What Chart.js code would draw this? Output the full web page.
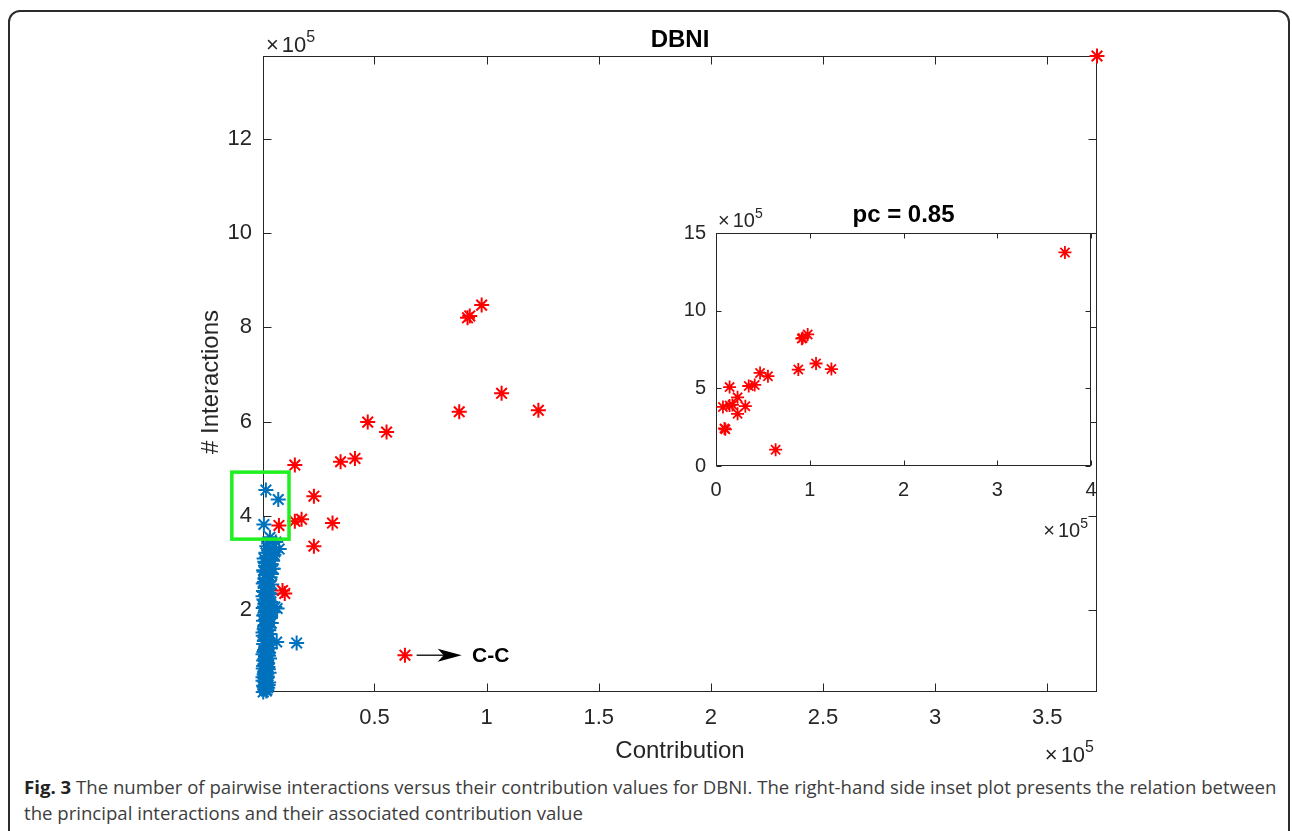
<!DOCTYPE html>
<html>
<head>
<meta charset="utf-8">
<script src="https://cdn.jsdelivr.net/npm/chart.js@4.4.0/dist/chart.umd.min.js"></script>
<style>
  html, body { margin: 0; padding: 0; background: #fff; }
  body { width: 1292px; height: 831px; position: relative; overflow: hidden; }
  #frame { position: absolute; left: 8px; top: 10px; width: 1282px; height: 900px;
           border: 2px solid #2b2b2b; border-radius: 12px; box-sizing: border-box; }
  #main { position: absolute; left: 0; top: 0; }
  #inset { position: absolute; left: 640px; top: 190px; }
  #caption { position: absolute; left: 24px; top: 774px; white-space: nowrap;
             font-family: "Open Sans", sans-serif; font-size: 18.6px; line-height: 26px; color: #3d3d3d; }
  #caption b { color: #222; }
</style>
</head>
<body>
<div id="frame"></div>
<canvas id="main" width="1292" height="770"></canvas>
<canvas id="inset" width="470" height="360"></canvas>
<div id="caption"><b>Fig. 3</b> The number of pairwise interactions versus their contribution values for DBNI. The right-hand side inset plot presents the relation between<br>the principal interactions and their associated contribution value</div>
<script>
// values in units of 1e5
const redContribution = [0.145, 0.349, 0.413, 0.230, 0.074, 0.145, 0.175, 0.313, 0.230, 0.090, 0.100,
  0.978, 0.915, 0.925, 1.067, 0.878, 1.231, 0.470, 0.554, 0.636, 3.722]
const redInteractions = [5.08, 5.15, 5.22, 4.42, 3.80, 3.89, 3.93, 3.85, 3.36, 2.42, 2.36,
  8.47, 8.20, 8.24, 6.60, 6.21, 6.24, 5.99, 5.78, 1.05, 13.75]

const blueContribution = [0.004, 0.018, 0.010, 0.024, 0.006, 0.016, 0.028, 0.003, 0.012, 0.022,
  0.008, 0.030, 0.015, 0.004, 0.025, 0.011, 0.019, 0.006, 0.032, 0.014,
  0.003, 0.024, 0.010, 0.036, 0.017, 0.006, 0.028, 0.012, 0.021, 0.004,
  0.034, 0.015, 0.008, 0.026, 0.013, 0.040, 0.005, 0.020, 0.030, 0.010,
  0.045, 0.016, 0.004, 0.027, 0.012, 0.038, 0.007, 0.022, 0.017, 0.031,
  0.005, 0.024, 0.013, 0.042, 0.009, 0.020, 0.035, 0.014, 0.026, 0.006,
  0.044, 0.018, 0.030, 0.011, 0.038, 0.022, 0.052, 0.016, 0.034, 0.046,
  0.028, 0.060, 0.075,
  0.016, 0.071, 0.007, 0.034, 0.056, 0.049, 0.066, 0.064, 0.153, 0.056,
  0.020, 0.008, 0.026, 0.014, 0.003, 0.020, 0.010, 0.027, 0.006, 0.022,
  0.013, 0.028, 0.007, 0.020, 0.030, 0.009, 0.025, 0.016, 0.003, 0.029,
  0.010, 0.023, 0.014, 0.036, 0.006, 0.025, 0.033, 0.009, 0.019, 0.030,
  0.003, 0.036, 0.010, 0.028, 0.018, 0.004, 0.030, 0.012, 0.040, 0.008,
  0.024, 0.036, 0.015, 0.046, 0.028, 0.008, 0.042, 0.020]
const blueInteractions = [0.27, 0.29, 0.33, 0.36, 0.40, 0.44, 0.47, 0.51, 0.55, 0.60,
  0.64, 0.68, 0.72, 0.77, 0.80, 0.85, 0.90, 0.94, 0.98, 1.02,
  1.07, 1.10, 1.15, 1.20, 1.24, 1.29, 1.33, 1.38, 1.42, 1.46,
  1.50, 1.55, 1.60, 1.64, 1.69, 1.73, 1.78, 1.82, 1.87, 1.91,
  1.96, 2.00, 2.05, 2.09, 2.14, 2.18, 2.23, 2.27, 2.32, 2.37,
  2.41, 2.46, 2.50, 2.55, 2.60, 2.65, 2.70, 2.75, 2.80, 2.85,
  2.88, 2.93, 2.98, 3.03, 3.08, 3.12, 3.18, 3.22, 3.28, 3.33,
  3.42, 3.45, 3.30,
  4.55, 4.35, 3.82, 3.55, 3.24, 2.88, 2.04, 1.33, 1.31, 2.07,
  0.31, 0.38, 0.42, 0.49, 0.58, 0.66, 0.70, 0.75, 0.82, 0.87,
  0.96, 1.04, 1.12, 1.18, 1.27, 1.35, 1.40, 1.48, 1.53, 1.58,
  1.66, 1.71, 1.80, 1.84, 1.89, 1.94, 2.02, 2.08, 2.16, 2.21,
  2.30, 2.34, 2.39, 2.44, 2.53, 2.57, 2.62, 2.68, 2.77, 2.82,
  2.90, 2.95, 3.00, 3.05, 3.15, 3.10, 3.21, 3.36]

const mainXTicks = [0.5, 1, 1.5, 2, 2.5, 3, 3.5]
const mainYTicks = [2, 4, 6, 8, 10, 12]
const insetXTicks = [0, 1, 2, 3, 4]
const insetYTicks = [0, 5, 10, 15]

// axis limits (tight around the data)
const mainXRange = [0.003, 3.722]
const mainYRange = [0.27, 13.75]

// annotations, data units
const highlightBox = { x0: -0.136, x1: 0.119, y0: 3.51, y1: 4.93 }
const ccArrow = { x0: 0.688, x1: 0.889, y: 1.05, textX: 0.935 }

const FONT = '"Liberation Sans", Arial, sans-serif'
const INK = '#262626'
const toPoints = (xs, ys) => xs.map((x, i) => ({ x, y: ys[i] }))

function drawBox(chart, tickLen) {
  const { ctx, chartArea: a, scales: { x, y } } = chart
  const L = Math.round(a.left) + 0.5, R = Math.round(a.right) - 0.5
  const T = Math.round(a.top) + 0.5, B = Math.round(a.bottom) - 0.5
  ctx.save()
  ctx.strokeStyle = INK
  ctx.lineWidth = 1
  ctx.strokeRect(L, T, R - L, B - T)
  ctx.beginPath()
  x.ticks.forEach(t => {
    const px = Math.round(x.getPixelForValue(t.value)) + 0.5
    ctx.moveTo(px, B); ctx.lineTo(px, B - tickLen)
    ctx.moveTo(px, T); ctx.lineTo(px, T + tickLen)
  })
  y.ticks.forEach(t => {
    const py = Math.round(y.getPixelForValue(t.value)) + 0.5
    ctx.moveTo(L, py); ctx.lineTo(L + tickLen, py)
    ctx.moveTo(R, py); ctx.lineTo(R - tickLen, py)
  })
  ctx.stroke()
  ctx.restore()
}

// "x10^5" multiplier; align 'left' or 'right' on x
function drawExponent(ctx, x, baseline, size, align) {
  ctx.save()
  ctx.fillStyle = INK
  ctx.textAlign = 'left'
  ctx.textBaseline = 'alphabetic'
  const small = Math.round(size * 0.72)
  ctx.font = `${size}px ${FONT}`
  const wx = ctx.measureText('\u00d7').width
  const w10 = ctx.measureText('10').width
  ctx.font = `${small}px ${FONT}`
  const w5 = ctx.measureText('5').width
  const total = wx + 3 + w10 + w5
  const x0 = align === 'right' ? x - total : x
  ctx.font = `${size}px ${FONT}`
  ctx.fillText('\u00d7', x0, baseline)
  ctx.fillText('10', x0 + wx + 3, baseline)
  ctx.font = `${small}px ${FONT}`
  ctx.fillText('5', x0 + wx + 3 + w10, baseline - size * 0.45)
  ctx.restore()
}

const mainDecor = {
  id: 'mainDecor',
  beforeDatasetsDraw(chart) { drawBox(chart, 8) },
  afterDraw(chart) {
    const { ctx, chartArea: a, scales: { x, y } } = chart
    ctx.save()
    // title
    ctx.fillStyle = '#000'
    ctx.font = `bold 24px ${FONT}`
    ctx.textAlign = 'center'
    ctx.textBaseline = 'alphabetic'
    ctx.fillText('DBNI', (a.left + a.right) / 2, a.top - 9)
    // axis titles
    ctx.fillStyle = INK
    ctx.font = `24px ${FONT}`
    ctx.fillText('Contribution', (a.left + a.right) / 2, a.bottom + 66)
    ctx.save()
    ctx.translate(a.left - 45, (a.top + a.bottom) / 2 + 8)
    ctx.rotate(-Math.PI / 2)
    ctx.fillText('# Interactions', 0, 0)
    ctx.restore()
    drawExponent(ctx, a.left + 3, a.top - 4, 22, 'left')
    drawExponent(ctx, a.right - 3, a.bottom + 70, 22, 'right')
    // highlight box
    ctx.strokeStyle = '#1ff01f'
    ctx.lineWidth = 3.5
    const bx0 = x.getPixelForValue(highlightBox.x0), bx1 = x.getPixelForValue(highlightBox.x1)
    const by0 = y.getPixelForValue(highlightBox.y0), by1 = y.getPixelForValue(highlightBox.y1)
    ctx.strokeRect(bx0, by1, bx1 - bx0, by0 - by1)
    // C-C arrow
    const ax0 = x.getPixelForValue(ccArrow.x0), ax1 = x.getPixelForValue(ccArrow.x1)
    const ay = y.getPixelForValue(ccArrow.y)
    ctx.strokeStyle = '#000'
    ctx.lineWidth = 1.3
    ctx.beginPath()
    ctx.moveTo(ax0, ay); ctx.lineTo(ax1 - 16, ay)
    ctx.stroke()
    ctx.fillStyle = '#000'
    ctx.beginPath()
    ctx.moveTo(ax1, ay)
    ctx.lineTo(ax1 - 24, ay - 6.5)
    ctx.lineTo(ax1 - 18, ay)
    ctx.lineTo(ax1 - 24, ay + 6.5)
    ctx.closePath()
    ctx.fill()
    ctx.font = `bold 21px ${FONT}`
    ctx.textAlign = 'left'
    ctx.textBaseline = 'middle'
    ctx.fillText('C-C', x.getPixelForValue(ccArrow.textX), ay + 1)
    ctx.restore()
  }
}

const insetDecor = {
  id: 'insetDecor',
  beforeDraw(chart) {
    const { ctx, chartArea: a } = chart
    ctx.save()
    ctx.fillStyle = '#fff'
    ctx.fillRect(a.left, a.top, a.right - a.left, a.bottom - a.top)
    ctx.restore()
  },
  beforeDatasetsDraw(chart) { drawBox(chart, 5) },
  afterDraw(chart) {
    const { ctx, chartArea: a } = chart
    ctx.save()
    ctx.fillStyle = '#000'
    ctx.font = `bold 24px ${FONT}`
    ctx.textAlign = 'center'
    ctx.textBaseline = 'alphabetic'
    ctx.fillText('pc = 0.85', (a.left + a.right) / 2, a.top - 11)
    ctx.restore()
    drawExponent(ctx, a.left + 2, a.top - 6, 20, 'left')
    drawExponent(ctx, a.right - 3, a.bottom + 71, 20, 'right')
  }
}

function axis(range, ticks, fontSize, padding, fit) {
  return {
    type: 'linear',
    min: range[0],
    max: range[1],
    afterBuildTicks: s => { s.ticks = ticks.map(v => ({ value: v })) },
    afterFit: fit,
    grid: { display: false, drawTicks: false },
    border: { display: false },
    ticks: {
      autoSkip: false,
      maxRotation: 0,
      padding: padding,
      color: INK,
      font: { family: FONT, size: fontSize },
      callback: v => String(Math.round(v * 100) / 100)
    }
  }
}

new Chart(document.getElementById('main'), {
  type: 'scatter',
  data: {
    datasets: [
      { data: toPoints(redContribution, redInteractions), pointStyle: 'star', pointRadius: 7.5,
        borderColor: '#ff0000', backgroundColor: '#ff0000', borderWidth: 2, clip: false },
      { data: toPoints(blueContribution, blueInteractions), pointStyle: 'star', pointRadius: 7.5,
        borderColor: '#0072bd', backgroundColor: '#0072bd', borderWidth: 2, clip: false }
    ]
  },
  options: {
    responsive: false,
    animation: false,
    events: [],
    layout: { padding: { left: 203, top: 56, right: 195, bottom: 18 } },
    plugins: { legend: { display: false }, tooltip: { enabled: false } },
    scales: {
      x: axis(mainXRange, mainXTicks, 22, 13, s => { s.height = 60 }),
      y: axis(mainYRange, mainYTicks, 22, 11, s => { s.width = 60 })
    }
  },
  plugins: [mainDecor]
})

new Chart(document.getElementById('inset'), {
  type: 'scatter',
  data: {
    datasets: [
      { data: toPoints(redContribution, redInteractions), pointStyle: 'star', pointRadius: 6.5,
        borderColor: '#ff0000', backgroundColor: '#ff0000', borderWidth: 1.8, clip: false }
    ]
  },
  options: {
    responsive: false,
    animation: false,
    events: [],
    layout: { padding: { left: 26, top: 43, right: 19, bottom: 34 } },
    plugins: { legend: { display: false }, tooltip: { enabled: false } },
    scales: {
      x: axis([0, 4], insetXTicks, 20, 12, s => { s.height = 50 }),
      y: axis([0, 15], insetYTicks, 20, 10, s => { s.width = 50 })
    }
  },
  plugins: [insetDecor]
})
</script>
</body>
</html>
